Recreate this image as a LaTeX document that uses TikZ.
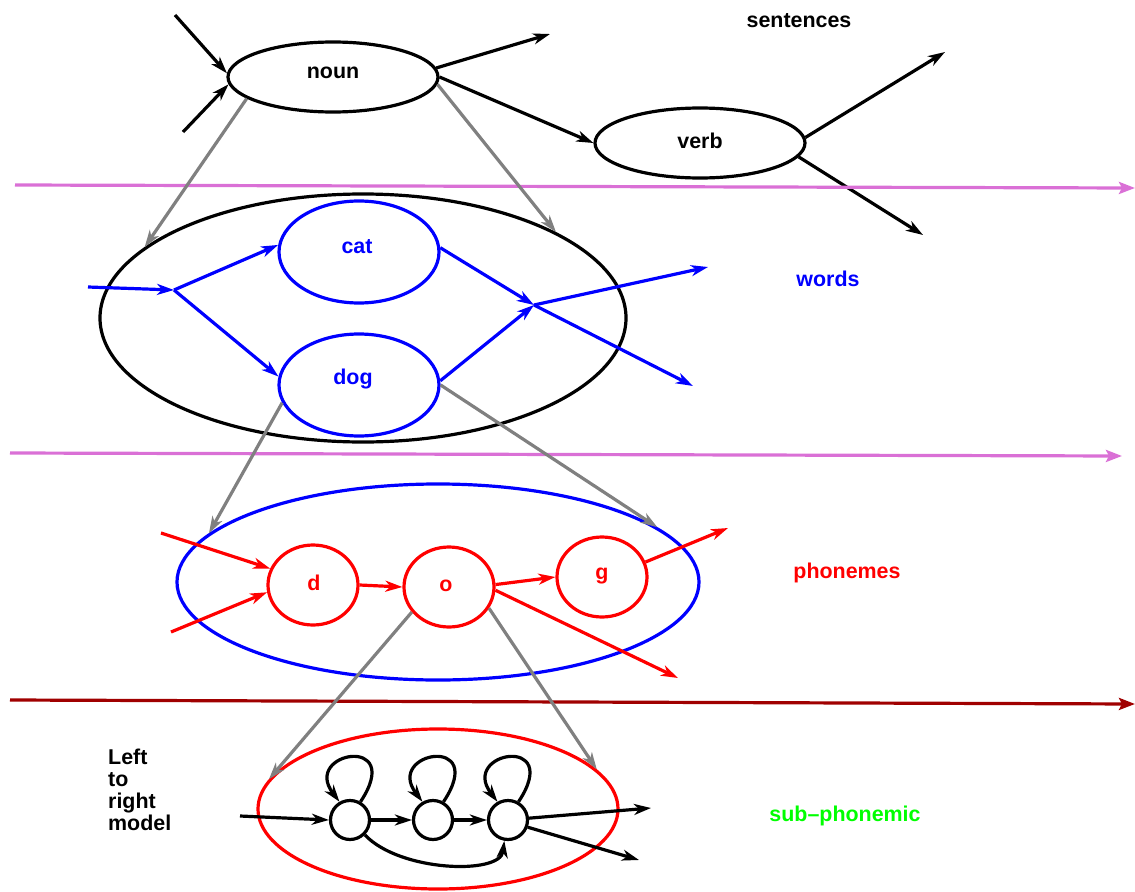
\documentclass[tikz,border=0pt]{standalone}
\usepackage{fontspec}
\setmainfont{Liberation Sans}
\usetikzlibrary{shapes.geometric,arrows.meta}
\definecolor{pinkline}{RGB}{218,112,214}
\definecolor{darkredline}{RGB}{160,0,0}
\definecolor{greytone}{RGB}{128,128,128}
\definecolor{brightgreen}{RGB}{0,255,0}
\tikzset{
  x=1bp, y=-1bp,
  >={Stealth[length=17bp,width=11bp,inset=5bp]},
  lbl/.style={font=\fontsize{21.5}{22}\selectfont\bfseries, inner sep=0pt},
  ell/.style={ellipse, draw, line width=3.2bp, inner sep=0pt},
  circ/.style={circle, draw, line width=3.2bp, inner sep=0pt, minimum size=39bp},
  arr/.style={->, line width=3.2bp},
  grayarr/.style={->, line width=3.2bp, draw=greytone},
  layerline/.style={-{Stealth[length=16bp,width=12bp,inset=3bp]}, line width=3.2bp},
}
\begin{document}
\begin{tikzpicture}
\useasboundingbox (0,0) rectangle (1135,892);

% ---------- sentences level ----------
\node[ell, minimum width=210bp, minimum height=70bp] (noun) at (333,77) {};
\node[lbl] (nounT) at (333,73) {noun};
\node[ell, minimum width=210bp, minimum height=70bp] (verb) at (700,143) {};
\node[lbl] (verbT) at (700,141) {verb};
\node[lbl] (sentT) at (799,21) {sentences};

\coordinate (sin1) at (175,15);
\coordinate (sin2) at (183,132);
\coordinate (sout1) at (550,34);
\coordinate (sout2) at (945,52);
\coordinate (sout3) at (923,235);

\draw[arr] (sin1) -- (noun.178);
\draw[arr] (sin2) -- (noun.184);
\draw[arr] (noun.5) -- (sout1);
\draw[arr] (noun.east) -- (verb.west);
\draw[arr] (verb.3) -- (sout2);
\draw[arr] (verb.-8) -- (sout3);

% ---------- layer lines ----------
\coordinate (l1a) at (15,185);
\coordinate (l1b) at (1135,188);
\coordinate (l2a) at (10,453);
\coordinate (l2b) at (1122,456);
\coordinate (l3a) at (10,700);
\coordinate (l3b) at (1135,704);
\draw[layerline, draw=pinkline] (l1a) -- (l1b);
\draw[layerline, draw=pinkline] (l2a) -- (l2b);
\draw[layerline, draw=darkredline] (l3a) -- (l3b);

% ---------- words level ----------
\node[ell, minimum width=526bp, minimum height=248bp] (wordsE) at (363,318) {};
\node[ell, draw=blue, minimum width=160bp, minimum height=102bp] (cat) at (359,252) {};
\node[lbl, text=blue] (catT) at (357,247) {cat};
\node[ell, draw=blue, minimum width=160bp, minimum height=102bp] (dog) at (359,385) {};
\node[lbl, text=blue] (dogT) at (353,379) {dog};
\node[lbl, text=blue] (wordsT) at (828,279) {words};

\coordinate (win) at (88,287);
\coordinate (wj1) at (174,290);
\coordinate (wj2) at (534,305);
\coordinate (wout1) at (708,267);
\coordinate (wout2) at (693,386);

\draw[arr, draw=blue] (win) -- (wj1);
\draw[arr, draw=blue] (wj1) -- (cat.175);
\draw[arr, draw=blue] (wj1) -- (dog.174);
\draw[arr, draw=blue] (cat.3) -- (wj2);
\draw[arr, draw=blue] (dog.3) -- (wj2);
\draw[arr, draw=blue] (wj2) -- (wout1);
\draw[arr, draw=blue] (wj2) -- (wout2);

\draw[grayarr] (noun.194) -- (wordsE.162);
\draw[grayarr] (noun.-4.5) -- (wordsE.24);

% ---------- phonemes level ----------
\node[ell, draw=blue, minimum width=522bp, minimum height=196bp] (phE) at (438,582) {};
\node[ell, draw=red, minimum width=90bp, minimum height=80bp] (d) at (313,585) {};
\node[lbl, text=red] (dT) at (314,583) {d};
\node[ell, draw=red, minimum width=90bp, minimum height=80bp] (o) at (449,587) {};
\node[lbl, text=red] (oT) at (446,586) {o};
\node[ell, draw=red, minimum width=90bp, minimum height=80bp] (g) at (602,577) {};
\node[lbl, text=red] (gT) at (602,576) {g};
\node[lbl, text=red] (phT) at (847,573) {phonemes};

\coordinate (pin1) at (161,533);
\coordinate (pin2) at (171,632);
\coordinate (pout1) at (728,528);
\coordinate (pout2) at (678,678);

\draw[arr, draw=red] (pin1) -- (d.159);
\draw[arr, draw=red] (pin2) -- (d.189);
\draw[arr, draw=red] (d.east) -- (o.west);
\draw[arr, draw=red] (o.3) -- (g.180);
\draw[arr, draw=red] (g.19) -- (pout1);
\draw[arr, draw=red] (o.-4) -- (pout2);

\draw[grayarr] (dog.193) -- (phE.168);
\draw[grayarr] (dog.0) -- (phE.14);

% ---------- sub-phonemic level ----------
\node[ell, draw=red, minimum width=360bp, minimum height=160bp] (subE) at (438,809) {};
\node[circ] (c1) at (350,820) {};
\node[circ] (c2) at (433,820) {};
\node[circ] (c3) at (508,820) {};
\node[lbl, text=brightgreen] (subT) at (845,816) {sub–phonemic};
\node[lbl, align=left, anchor=north west] (lrT) at (108,749) {Left\\to\\right\\model};

\coordinate (sin) at (240,816);
\coordinate (sout1b) at (651,808);
\coordinate (sout2b) at (639,860);

\draw[arr] (sin) -- (c1.west);
\draw[arr] (c1.east) -- (c2.west);
\draw[arr] (c2.east) -- (c3.west);
\draw[arr] (c1.-45) .. controls (400,872) and (500,875) .. (c3.-100);
\draw[arr] (c3.5) -- (sout1b);
\draw[arr] (c3.-20) -- (sout2b);
\foreach \c in {c1,c2,c3}{
  \draw[arr] (\c.60) .. controls +(45,-68) and +(-38,-50) .. (\c.120);
}

\draw[grayarr] (o.214) -- (subE.170);
\draw[grayarr] (o.-28) -- (subE.14);
\end{tikzpicture}
\end{document}
